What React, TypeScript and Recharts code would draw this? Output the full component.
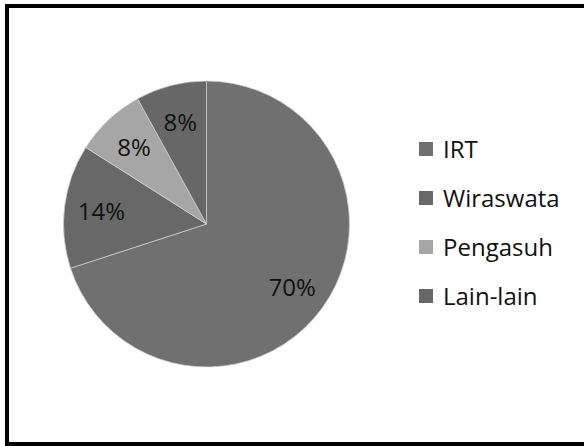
import { Cell, Legend, Pie, PieChart } from "recharts";

const categories = ["IRT", "Wiraswata", "Pengasuh", "Lain-lain"];
const shares = [70, 14, 8, 8];
const colors = ["#707070", "#686868", "#a6a6a6", "#676767"];

const data = categories.map((name, i) => ({ name, value: shares[i] }));

const RADIAN = Math.PI / 180;
const FONT = "'Open Sans', sans-serif";

function renderLabel(props: any) {
  const { cx, cy, midAngle, outerRadius, value } = props;
  const r = outerRadius * 0.74;
  const x = cx + r * Math.cos(-midAngle * RADIAN);
  const y = cy + r * Math.sin(-midAngle * RADIAN);
  return (
    <text x={x} y={y} fill="#111" fontSize={24} fontFamily={FONT} textAnchor="middle" dominantBaseline="central">
      {value}%
    </text>
  );
}

function LegendBox() {
  return (
    <div style={{ fontFamily: FONT, fontSize: 24, color: "#111" }}>
      {categories.map((name, i) => (
        <div key={name} style={{ display: "flex", alignItems: "center", height: 49 }}>
          <span style={{ width: 14, height: 14, background: colors[i], marginRight: 10, display: "inline-block" }} />
          <span>{name}</span>
        </div>
      ))}
    </div>
  );
}

export default function App() {
  return (
    <div style={{ position: "fixed", left: 0, top: 0, width: 584, height: 446, overflow: "hidden", background: "#fff" }}>
      <div
        style={{
          position: "absolute",
          left: 5,
          top: 4,
          width: 700,
          height: 442,
          border: "4px solid #000",
          boxSizing: "border-box",
        }}
      />
      <div style={{ position: "absolute", left: 0, top: 0 }}>
        <PieChart width={584} height={446} margin={{ top: 0, right: 0, bottom: 0, left: 0 }}>
          <Pie
            data={data}
            dataKey="value"
            nameKey="name"
            cx={206.5}
            cy={224}
            outerRadius={143}
            startAngle={90}
            endAngle={-270}
            stroke="#d0d0d0"
            strokeWidth={0.75}
            label={renderLabel}
            labelLine={false}
            isAnimationActive={false}
          >
            {data.map((d, i) => (
              <Cell key={d.name} fill={colors[i]} />
            ))}
          </Pie>
          <Legend
            layout="vertical"
            content={() => <LegendBox />}
            wrapperStyle={{ position: "absolute", left: 419, top: 124, width: 160 }}
          />
        </PieChart>
      </div>
    </div>
  );
}
